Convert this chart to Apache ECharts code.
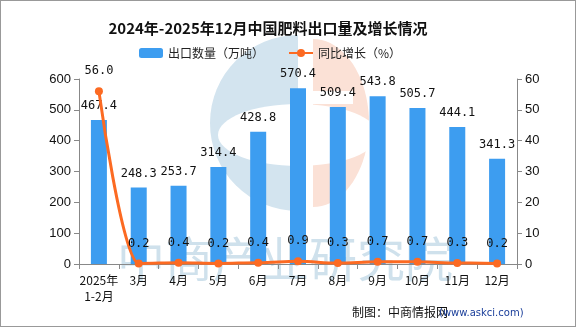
<!DOCTYPE html>
<html><head><meta charset="utf-8">
<script src="https://cdn.jsdelivr.net/npm/echarts@6/dist/echarts.min.js"></script>
<style>html,body{margin:0;padding:0;background:#fff}#c{width:576px;height:327px;box-sizing:border-box;border:1px solid #999}</style>
</head><body><div id="c"></div>
<script>
var categories = ['2025年\n1-2月','3月','4月','5月','6月','7月','8月','9月','10月','11月','12月'];
var exportVolume = [467.4,248.3,253.7,314.4,428.8,570.4,509.4,543.8,505.7,444.1,341.3];
var yoyGrowth = [56.0,0.2,0.4,0.2,0.4,0.9,0.3,0.7,0.7,0.3,0.2];
var leftTicks = [0,600,100];
var rightTicks = [0,60,10];

// decorative watermark: right half-ellipse outline
var halfEllipse = [];
for (var i = 0; i <= 40; i++) {
  var a = -Math.PI/2 + Math.PI*i/40;
  halfEllipse.push([312 + 56*Math.cos(a), 122 + 84*Math.sin(a)]);
}

var chart = echarts.init(document.getElementById('c'));
chart.setOption({
  animation:false,
  title:{text:'2024年-2025年12月中国肥料出口量及增长情况',left:262,top:15,textAlign:'center',
    textStyle:{fontSize:15,fontWeight:'bold',color:'#111',fontFamily:'"Noto Sans CJK SC"'}},
  legend:{top:41,left:133,itemWidth:24,itemHeight:10,itemGap:24,
    textStyle:{fontSize:12,color:'#222',fontFamily:'"Noto Sans CJK SC"'},
    data:['出口数量（万吨）','同比增长（%）']},
  graphic:[
    {type:'sector',shape:{cx:297,cy:122,r:88,r0:0,startAngle:Math.PI/2,endAngle:Math.PI*1.5,clockwise:true},style:{fill:'#d3e4ef'},z:-3,silent:true},
    {type:'ellipse',shape:{cx:297,cy:134,rx:80,ry:31},style:{fill:'#fff'},z:-2,silent:true},
    {type:'polygon',shape:{points:halfEllipse},style:{fill:'#fbe1d6'},z:-3,silent:true},
    {type:'rect',shape:{x:312,y:90,width:40,height:13},style:{fill:'#fff'},z:-2,silent:true},
    {type:'text',left:116,top:234,style:{text:'中商产业研究院',fontSize:48,fill:'#cfe1ec',fontFamily:'"Noto Sans CJK SC"'},z:-1,silent:true},
    {type:'text',left:351,top:305,style:{text:'制图：中商情报网',fontSize:12,fill:'#111',fontFamily:'"Noto Sans CJK SC"'}},
    {type:'text',left:438,top:307,style:{text:'(www.askci.com)',fontSize:10,fill:'#1a3e9a',fontFamily:'"DejaVu Sans"'}}
  ],
  grid:{left:78,right:58,top:78,bottom:62},
  xAxis:{type:'category',data:categories,
    axisLine:{lineStyle:{color:'#888'}},axisTick:{show:true,lineStyle:{color:'#888'}},
    axisLabel:{color:'#111',fontSize:12,interval:0,lineHeight:16,fontFamily:'"Noto Sans CJK SC"'}},
  yAxis:[
    {type:'value',min:leftTicks[0],max:leftTicks[1],interval:leftTicks[2],splitLine:{show:false},
      axisLine:{show:true,lineStyle:{color:'#888'}},axisTick:{show:true,lineStyle:{color:'#888'}},
      axisLabel:{color:'#111',fontSize:13,fontFamily:'"Liberation Sans"'}},
    {type:'value',min:rightTicks[0],max:rightTicks[1],interval:rightTicks[2],splitLine:{show:false},
      axisLine:{show:true,lineStyle:{color:'#888'}},axisTick:{show:true,lineStyle:{color:'#888'}},
      axisLabel:{color:'#111',fontSize:13,fontFamily:'"Liberation Sans"'}}
  ],
  series:[
    {name:'出口数量（万吨）',type:'bar',data:exportVolume,barWidth:16,itemStyle:{color:'#3d9df0'},
      label:{show:true,position:'top',distance:8,formatter:function(p){return p.value.toFixed(1);},color:'#111',fontSize:12,fontFamily:'"DejaVu Sans Mono"'}},
    {name:'同比增长（%）',type:'line',yAxisIndex:1,data:yoyGrowth,smooth:0.4,smoothMonotone:'x',symbol:'circle',symbolSize:8,
      lineStyle:{color:'#fc6a22',width:3},itemStyle:{color:'#fc6a22'},
      label:{show:true,position:'top',distance:10,formatter:function(p){return p.value.toFixed(1);},color:'#111',fontSize:12,fontFamily:'"DejaVu Sans Mono"'}}
  ]
});
</script></body></html>
